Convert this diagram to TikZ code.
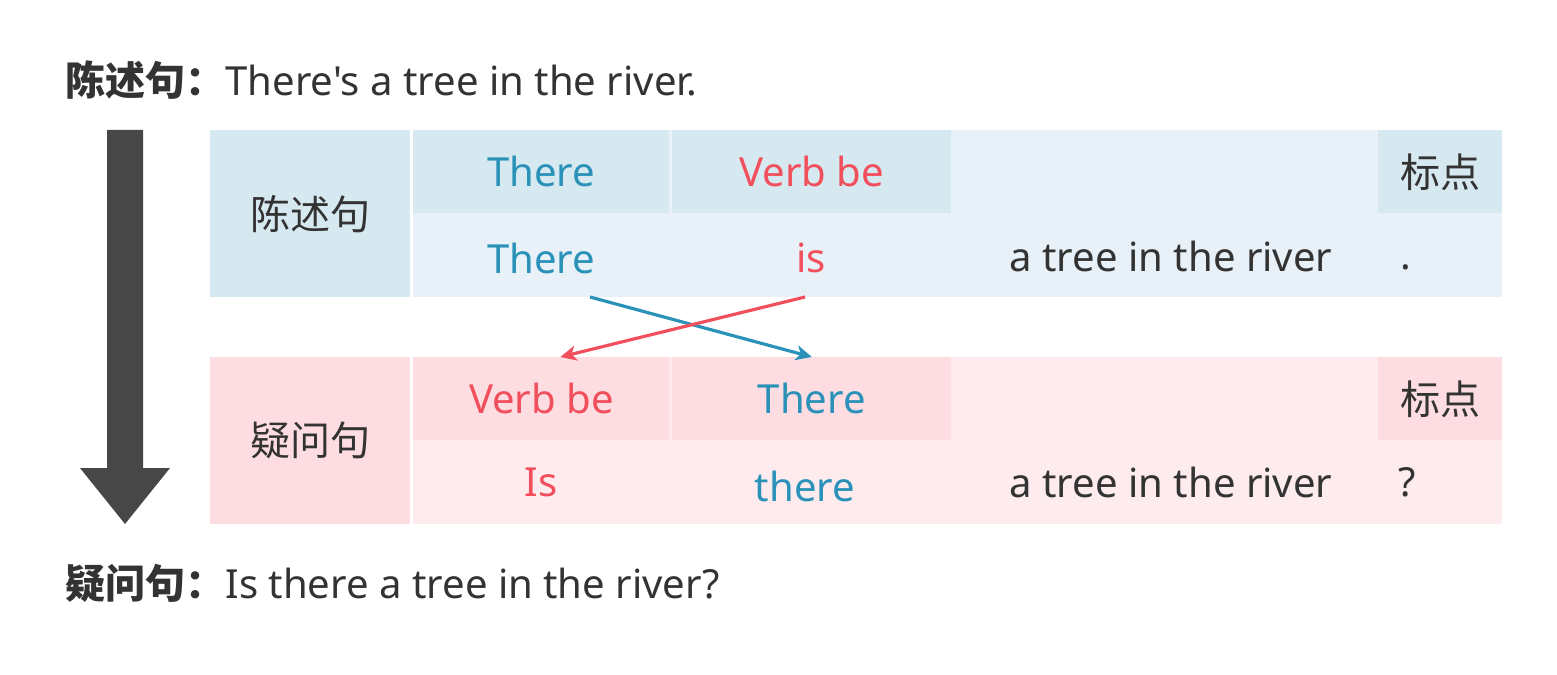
\documentclass[tikz,border=0pt]{standalone}
\usepackage{fontspec}
\setmainfont{Noto Sans}[Ligatures=TeXOff]
\newfontfamily\cjk{Noto Sans CJK SC}
\usepackage{xcolor}
\usepackage{tikz}
\usetikzlibrary{arrows.meta,positioning}
\definecolor{tblue}{RGB}{42,146,184}
\definecolor{tred}{RGB}{242,79,92}
\definecolor{tdark}{RGB}{51,51,51}
\definecolor{bluedark}{RGB}{214,232,240}
\definecolor{bluelight}{RGB}{232,241,247}
\definecolor{pinkdark}{RGB}{253,221,225}
\definecolor{pinklight}{RGB}{253,235,238}
\definecolor{arrowgray}{RGB}{71,71,71}

\begin{document}
\begin{tikzpicture}[x=0.02cm, y=-0.02cm, font=\fontsize{22.8}{27}\selectfont, text=tdark]
    \tikzstyle{cell} = [rectangle, anchor=north west, inner sep=0pt, text centered]
    \tikzstyle{word} = [inner sep=0pt, text centered]
    \tikzstyle{swap} = [line width=1.8pt, -{Stealth[length=0.32cm, width=0.3cm, inset=0.09cm]}]

    \useasboundingbox (0,0) rectangle (1557,675);

    % Titles
    \node [word, anchor=west] (stmtTitle) at (65,80) {{\cjk\bfseries 陈述句：}There's a tree in the river.};
    \node [word, anchor=west] (askTitle) at (65,583) {{\cjk\bfseries 疑问句：}Is there a tree in the river?};

    % Big arrow
    \fill [arrowgray] (107,130) -- (143,130) -- (143,468) -- (170,468) -- (125,524) -- (80,468) -- (107,468) -- cycle;

    % Statement
    \fill [bluelight] (413,130) rectangle (1502,297);
    \node [cell, fill=bluedark, minimum width=4cm, minimum height=3.34cm] (stmt) at (210,130) {\cjk 陈述句};
    \node [cell, fill=bluedark, minimum width=5.12cm, minimum height=1.66cm, text=tblue] (thereA) at (413,130) {There};
    \node [cell, fill=bluedark, minimum width=5.58cm, minimum height=1.66cm, text=tred] (verbA) at (672,130) {Verb be};
    \node [cell, fill=bluedark, minimum width=2.48cm, minimum height=1.66cm] (markA) at (1378,130) {\cjk 标点};
    \node [word, text=tblue] (thereB) at (541,258) {There};
    \node [word, text=tred] (isB) at (811,258) {is};
    \node [word] (restB) at (1171,256) {a tree in the river};
    \node [word, anchor=base west] (dotB) at (1400,270) {.};

    % Question
    \fill [pinklight] (413,357) rectangle (1502,524);
    \node [cell, fill=pinkdark, minimum width=4cm, minimum height=3.34cm] (ask) at (210,357) {\cjk 疑问句};
    \node [cell, fill=pinkdark, minimum width=5.12cm, minimum height=1.66cm, text=tred] (verbC) at (413,357) {Verb be};
    \node [cell, fill=pinkdark, minimum width=5.58cm, minimum height=1.66cm, text=tblue] (thereC) at (672,357) {There};
    \node [cell, fill=pinkdark, minimum width=2.48cm, minimum height=1.66cm] (markC) at (1378,357) {\cjk 标点};
    \node [word, text=tred] (isD) at (541,482) {Is};
    \node [word, text=tblue] (thereD) at (805,486) {there};
    \node [word] (restD) at (1171,482) {a tree in the river};
    \node [word, anchor=west] (qD) at (1398,482) {?};

    % Arrows
    \coordinate (fromThere) at (590,297);
    \coordinate (fromIs) at (805,297);
    \draw [swap, tblue] (fromThere) -- (thereC.north);
    \draw [swap, tred] (fromIs) -- ([xshift=0.38cm]verbC.north);
\end{tikzpicture}
\end{document}
